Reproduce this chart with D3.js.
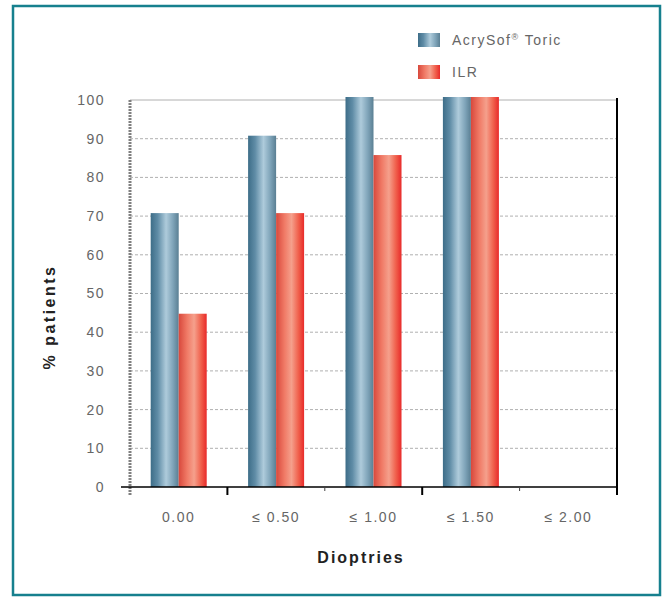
<!DOCTYPE html>
<html><head><meta charset="utf-8">
<script src="https://cdn.jsdelivr.net/npm/d3@7"></script>
<style>body{margin:0;background:#fff}svg{display:block}text{font-family:"Liberation Sans",Arial,sans-serif}</style>
</head><body><svg id="c" width="667" height="597"></svg>
<script>
const categories = ["0.00", "≤ 0.50", "≤ 1.00", "≤ 1.50", "≤ 2.00"];
const seriesNames = ["AcrySof", "ILR"];
const acrysof = [70, 90, 100, 100, 0];
const ilr = [44, 70, 85, 100, 0];
const yTicks = [0, 10, 20, 30, 40, 50, 60, 70, 80, 90, 100];

const svg = d3.select("#c");
const defs = svg.append("defs");
function grad(id, stops) {
  const g = defs.append("linearGradient").attr("id", id).attr("x1", "0").attr("x2", "1").attr("y1", "0").attr("y2", "0");
  stops.forEach(s => g.append("stop").attr("offset", s[0]).attr("stop-color", s[1]));
}
grad("gBlue", [[0, "#3d6d88"], [0.25, "#5f8ca6"], [0.55, "#aecbdb"], [0.8, "#7ea3b8"], [1, "#5a7f93"]]);
grad("gRed", [[0, "#d8483c"], [0.3, "#f07a66"], [0.55, "#f5a08c"], [0.8, "#f0604c"], [1, "#e82a2a"]]);
const fills = ["url(#gBlue)", "url(#gRed)"];

// frame
svg.append("rect").attr("x", 13).attr("y", 6).attr("width", 647).attr("height", 589)
  .attr("fill", "none").attr("stroke", "#16808e").attr("stroke-width", 2.5);

const L = 130, R = 617, T = 100, B = 487;
const x = d3.scaleBand().domain(categories).range([L, R]);
const y = d3.scaleLinear().domain([0, 100]).range([B, T]);

// gridlines
svg.append("g").selectAll("line").data(yTicks.filter(d => d > 0)).join("line")
  .attr("x1", L).attr("x2", R).attr("y1", d => y(d)).attr("y2", d => y(d))
  .attr("stroke", "#b0b0b0").attr("stroke-width", 1)
  .attr("stroke-dasharray", d => d === 100 ? null : "3,2");

// bars
const bw = 28;
const data = [acrysof, ilr];
data.forEach((vals, si) => {
  svg.append("g").selectAll("rect").data(categories).join("rect")
    .attr("x", (c) => x(c) + x.bandwidth() / 2 - bw + si * bw)
    .attr("width", bw)
    .attr("y", (c, i) => y(vals[i]) - (vals[i] > 0 ? 3 : 0))
    .attr("height", (c, i) => vals[i] > 0 ? B - y(vals[i]) + 3 : 0)
    .attr("fill", fills[si]);
});

// y axis line (dotted grey thick)
svg.append("line").attr("x1", L).attr("x2", L).attr("y1", T).attr("y2", B + 9)
  .attr("stroke", "#808080").attr("stroke-width", 3).attr("stroke-dasharray", "2,1");
// right border line
svg.append("line").attr("x1", R).attr("x2", R).attr("y1", T - 2).attr("y2", B + 8)
  .attr("stroke", "#000").attr("stroke-width", 2);

const tickFont = g => g.selectAll("text").attr("font-size", 14).attr("fill", "#666")
  .attr("letter-spacing", 1.5).attr("font-family", '"Liberation Sans",Arial,sans-serif');

// y tick labels
const yAxis = d3.axisLeft(y).tickValues(yTicks).tickSize(0).tickPadding(0);
const yg = svg.append("g").attr("transform", `translate(${L - 25},0)`).call(yAxis);
yg.select(".domain").remove();
tickFont(yg);

// x axis
const xAxis = d3.axisBottom(x).tickSize(0).tickPadding(25);
const xg = svg.append("g").attr("transform", `translate(0,${B})`).call(xAxis);
xg.select(".domain").remove();
tickFont(xg);
svg.append("line").attr("x1", L - 9).attr("x2", R).attr("y1", B).attr("y2", B).attr("stroke", "#000").attr("stroke-width", 1.5);
// tick marks between categories
categories.forEach((c, i) => {
  if (i === 0) return;
  const xx = x(c);
  const major = i % 2 === 1;
  svg.append("line").attr("x1", xx).attr("x2", xx).attr("y1", B).attr("y2", B + (major ? 8 : 4))
    .attr("stroke", major ? "#000" : "#444").attr("stroke-width", major ? 2 : 1);
});

// axis titles
svg.append("text").attr("x", 361).attr("y", 563).attr("text-anchor", "middle")
  .attr("font-size", 16).attr("font-weight", "bold").attr("letter-spacing", 2).attr("fill", "#222").text("Dioptries");
svg.append("text").attr("transform", "translate(55,317) rotate(-90)").attr("text-anchor", "middle")
  .attr("font-size", 16).attr("font-weight", "bold").attr("letter-spacing", 2.5).attr("fill", "#222").text("% patients");

// legend
seriesNames.forEach((n, i) => {
  const ly = 33 + i * 32;
  svg.append("rect").attr("x", 418).attr("y", ly).attr("width", 22).attr("height", 14).attr("fill", fills[i]);
  const t = svg.append("text").attr("x", 452).attr("y", ly + 12).attr("font-size", 14)
    .attr("letter-spacing", 1.5).attr("fill", "#666").text(n);
  if (i === 0) {
    t.append("tspan").attr("font-size", 9).attr("dy", -5).text("®");
    t.append("tspan").attr("dy", 5).text(" Toric");
  }
});
</script></body></html>
